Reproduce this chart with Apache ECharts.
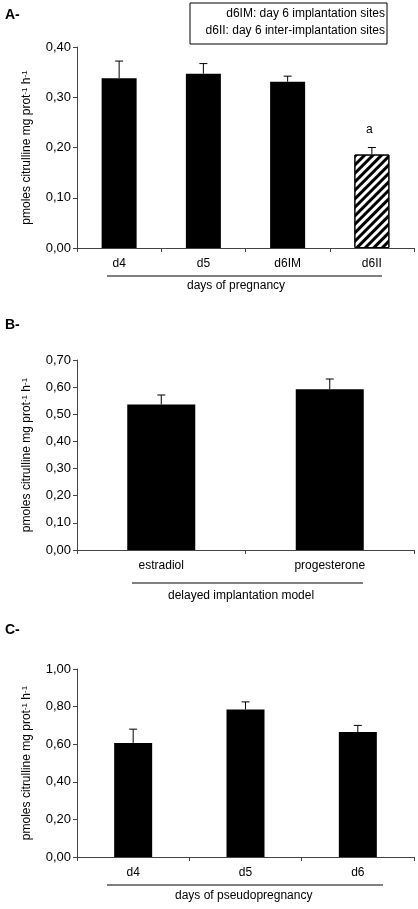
<!DOCTYPE html>
<html>
<head>
<meta charset="utf-8">
<script src="https://cdn.jsdelivr.net/npm/echarts@6/dist/echarts.min.js"></script>
<style>html,body{margin:0;padding:0;background:#fff}#main{width:418px;height:909px}</style>
</head>
<body>
<div id="main"></div>
<script>
// Data
var catsA = ['d4', 'd5', 'd6IM', 'd6II'];
var valsA = [0.338, 0.347, 0.331, 0.186];
var errA = [0.034, 0.020, 0.011, 0.014];
var catsB = ['estradiol', 'progesterone'];
var valsB = [0.536, 0.592];
var errB = [0.035, 0.038];
var catsC = ['d4', 'd5', 'd6'];
var valsC = [0.607, 0.785, 0.665];
var errC = [0.073, 0.040, 0.035];

var font = 'Liberation Sans, Arial, sans-serif';
var myChart = echarts.init(document.getElementById('main'));

function fmt(v) { return v.toFixed(2).replace('.', ','); }

var yName = '{t|pmoles citrulline mg prot}{s|-1}{t| h}{s|-1}';

function yAxis(idx, max, interval) {
  return {
    gridIndex: idx, min: 0, max: max, interval: interval,
    name: yName, nameLocation: 'center', nameGap: 44, nameRotate: 90,
    nameTextStyle: { rich: { t: { fontSize: 12, fontFamily: font, color: '#000' }, s: { fontSize: 8, fontFamily: font, color: '#000', verticalAlign: 'top', padding: [0, 0, 0, 0] } } },
    axisLine: { show: true, lineStyle: { color: '#444', width: 1 } },
    axisTick: { show: true, length: 4, lineStyle: { color: '#444' } },
    axisLabel: { formatter: fmt, color: '#000', fontSize: 13, fontFamily: font, margin: 6 },
    splitLine: { show: false }
  };
}
function xAxis(idx, cats) {
  return {
    type: 'category', gridIndex: idx, data: cats,
    axisLine: { lineStyle: { color: '#444' } },
    axisTick: { show: true, length: 4, lineStyle: { color: '#444' } },
    axisLabel: { color: '#000', fontSize: 12, fontFamily: font, margin: 10 }
  };
}
function barData(vals, hatchIdx) {
  return vals.map(function (v, i) {
    if (i === hatchIdx) {
      return {
        value: v,
        itemStyle: {
          color: '#fff', borderColor: '#000', borderWidth: 1,
          decal: { symbol: 'rect', color: '#000', dashArrayX: [1, 0], dashArrayY: [3, 3], rotation: -Math.PI / 4 }
        }
      };
    }
    return v;
  });
}
function errSeries(idx, vals, errs) {
  return {
    type: 'custom', xAxisIndex: idx, yAxisIndex: idx, z: 3,
    data: vals.map(function (v, i) { return [i, v, v + errs[i]]; }),
    renderItem: function (params, api) {
      var lo = api.coord([api.value(0), api.value(1)]);
      var hi = api.coord([api.value(0), api.value(2)]);
      var st = { stroke: '#000', lineWidth: 1 };
      return {
        type: 'group', children: [
          { type: 'line', shape: { x1: lo[0], y1: lo[1], x2: hi[0], y2: hi[1] }, style: st },
          { type: 'line', shape: { x1: hi[0] - 4, y1: hi[1], x2: hi[0] + 4, y2: hi[1] }, style: st }
        ]
      };
    }
  };
}
function barSeries(idx, vals, width, hatchIdx) {
  return {
    type: 'bar', xAxisIndex: idx, yAxisIndex: idx, barWidth: width,
    itemStyle: { color: '#000' }, data: barData(vals, hatchIdx), z: 2
  };
}
function txt(x, y, s, size, weight) {
  return { type: 'text', left: x, top: y, style: { text: s, fontSize: size || 12, fontFamily: font, fontWeight: weight || 'normal', fill: '#000' } };
}
function hline(x1, x2, y) {
  return { type: 'line', shape: { x1: x1, y1: y, x2: x2, y2: y }, style: { stroke: '#000', lineWidth: 1 } };
}

var option = {
  animation: false,
  grid: [
    { left: 77, right: 4, top: 47, height: 201 },
    { left: 77, right: 4, top: 360, height: 190 },
    { left: 77, right: 4, top: 669, height: 188 }
  ],
  xAxis: [xAxis(0, catsA), xAxis(1, catsB), xAxis(2, catsC)],
  yAxis: [yAxis(0, 0.4, 0.1), yAxis(1, 0.7, 0.1), yAxis(2, 1.0, 0.2)],
  series: [
    barSeries(0, valsA, 35, 3), errSeries(0, valsA, errA),
    barSeries(1, valsB, 68), errSeries(1, valsB, errB),
    barSeries(2, valsC, 38), errSeries(2, valsC, errC)
  ],
  graphic: [
    txt(5, 8, 'A-', 14, 'bold'),
    { type: 'rect', shape: { x: 190, y: 3, width: 197, height: 41 }, style: { fill: '#fff', stroke: '#000', lineWidth: 1 } },
    { type: 'text', right: 33, top: 8, style: { text: 'd6IM: day 6 implantation sites', fontSize: 12, fontFamily: font, fill: '#000' } },
    { type: 'text', right: 33, top: 25, style: { text: 'd6II: day 6 inter-implantation sites', fontSize: 12, fontFamily: font, fill: '#000' } },
    txt(366, 124, 'a', 12),
    hline(107, 382, 276),
    txt(187, 280, 'days of pregnancy', 12),
    txt(5, 318, 'B-', 14, 'bold'),
    hline(132, 363, 583),
    txt(168, 590, 'delayed implantation model', 12),
    txt(5, 623, 'C-', 14, 'bold'),
    hline(107, 383, 885),
    txt(175, 890, 'days of pseudopregnancy', 12)
  ]
};
myChart.setOption(option);
</script>
</body>
</html>
